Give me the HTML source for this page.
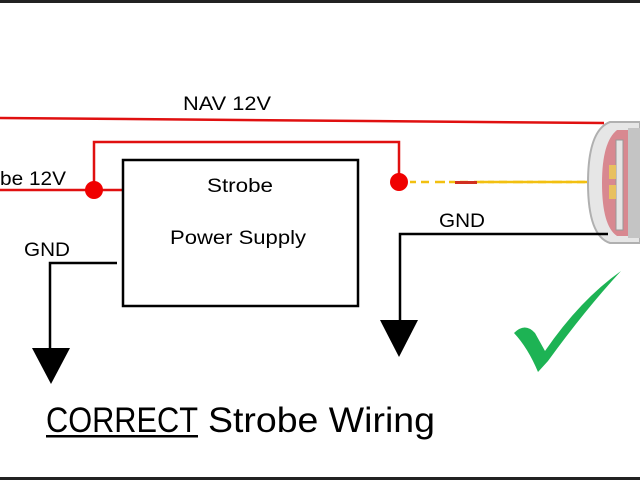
<!DOCTYPE html>
<html><head><meta charset="utf-8"><style>html,body{margin:0;padding:0;background:#fff}svg{display:block}</style></head>
<body>
<svg width="640" height="480" viewBox="0 0 640 480" xmlns="http://www.w3.org/2000/svg" font-family="Liberation Sans, sans-serif">
<rect width="640" height="480" fill="#fff"/>
<rect x="0" y="0" width="640" height="3" fill="#222"/>
<rect x="0" y="477" width="640" height="3" fill="#222"/>
<!-- light -->
<path d="M640 122 L610 122 Q588 130 588 183 Q588 236 610 243 L640 243 Z" fill="#e6e6e6" stroke="#b0b0b0" stroke-width="2"/>
<path d="M640 130 L617 130 Q602 142 602 183 Q602 226 617 236 L640 236 Z" fill="#d88890"/>
<rect x="616" y="140" width="7" height="90" fill="#e4e4e4" stroke="#999"/>
<rect x="609" y="165" width="7" height="14" fill="#e8c060"/>
<rect x="609" y="185" width="7" height="14" fill="#e8c060"/>
<rect x="628" y="128" width="12" height="110" fill="#c4c4c4"/>
<!-- NAV -->
<line x1="0" y1="118" x2="604" y2="123" stroke="#e01010" stroke-width="2.5"/>
<text x="183" y="110" font-size="19" textLength="88" lengthAdjust="spacingAndGlyphs">NAV 12V</text>
<!-- strobe -->
<polyline points="0,190 122,190" stroke="#e01010" stroke-width="2.5" fill="none"/>
<polyline points="94,190 94,142 399,142 399,182" stroke="#e01010" stroke-width="2.5" fill="none"/>
<circle cx="94" cy="190" r="9" fill="#f00000"/>
<circle cx="399" cy="182" r="9" fill="#f00000"/>
<text x="0" y="185" font-size="19" textLength="66" lengthAdjust="spacingAndGlyphs">be 12V</text>
<line x1="410" y1="182" x2="587" y2="182" stroke="#f2c010" stroke-width="2.5" stroke-dasharray="6,5,8,6,10,4"/>
<line x1="480" y1="182" x2="587" y2="182" stroke="#f2c010" stroke-width="2.5"/>
<rect x="455" y="181" width="22" height="3" fill="#d03020"/>
<!-- box -->
<rect x="123" y="160" width="235" height="146" fill="none" stroke="#000" stroke-width="2.5"/>
<text x="207" y="192" font-size="19" textLength="66" lengthAdjust="spacingAndGlyphs">Strobe</text>
<text x="170" y="244" font-size="19" textLength="136" lengthAdjust="spacingAndGlyphs">Power Supply</text>
<!-- GND left -->
<text x="24" y="256" font-size="19" textLength="46" lengthAdjust="spacingAndGlyphs">GND</text>
<polyline points="117,263 50,263 50,350" stroke="#000" stroke-width="2.5" fill="none"/>
<polygon points="32,348 70,348 51,384" fill="#000"/>
<!-- GND right -->
<text x="439" y="227" font-size="19" textLength="46" lengthAdjust="spacingAndGlyphs">GND</text>
<polyline points="608,234 400,234 400,322" stroke="#000" stroke-width="2.5" fill="none"/>
<polygon points="380,320 418,320 399,357" fill="#000"/>
<!-- check -->
<path d="M514 333 Q525 322 535 333 L545 351 Q580 300 621 271 Q585 310 548 361 L538 372 Q528 348 514 333 Z" fill="#1db354"/>
<!-- title -->
<text x="46" y="432" font-size="35" textLength="152" lengthAdjust="spacingAndGlyphs">CORRECT</text>
<text x="208" y="432" font-size="35" textLength="227" lengthAdjust="spacingAndGlyphs">Strobe Wiring</text>
<rect x="46" y="435" width="152" height="2.5" fill="#000"/>
</svg>
</body></html>
